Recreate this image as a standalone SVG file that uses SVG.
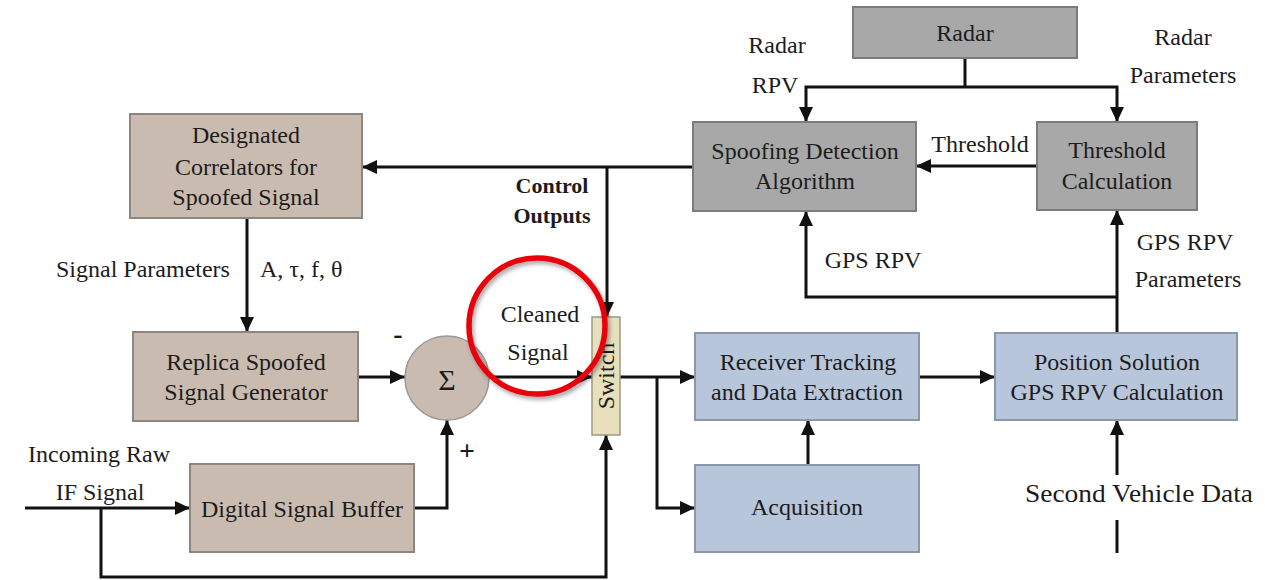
<svg xmlns="http://www.w3.org/2000/svg" width="1265" height="580" viewBox="0 0 1265 580">
<style>
  text { font-family: "Liberation Serif", "DejaVu Serif", "Times New Roman", serif; font-size: 24px; fill: #1c1c1c; }
  .c { text-anchor: middle; }
  .tan { fill: #cabbb0; stroke: #8c8580; stroke-width: 2; }
  .gray { fill: #a8a8a8; stroke: #7c7c7c; stroke-width: 2; }
  .blue { fill: #b8c6dc; stroke: #8c97aa; stroke-width: 2; }
  .sw { fill: #e8dfbd; stroke: #9b9a80; stroke-width: 1.5; }
  .ln { fill: none; stroke: #111; stroke-width: 3; }
  .arr { marker-end: url(#ah); }
  .bold { font-weight: bold; font-size: 22px; }
</style>
<defs>
  <marker id="ah" markerUnits="userSpaceOnUse" markerWidth="16" markerHeight="14" refX="15" refY="7" orient="auto">
    <path d="M0,0 L15,7 L0,14 z" fill="#111"/>
  </marker>
  <filter id="sh" x="-20%" y="-20%" width="140%" height="140%">
    <feDropShadow dx="2" dy="3" stdDeviation="2" flood-color="#000" flood-opacity="0.35"/>
  </filter>
</defs>
<rect width="1265" height="580" fill="#fff"/>

<g id="connectors">
  <line class="ln arr" x1="693" y1="167" x2="362" y2="167"/>
  <line class="ln arr" x1="607" y1="167" x2="607" y2="317"/>
  <line class="ln arr" x1="247" y1="218" x2="247" y2="332"/>
  <line class="ln arr" x1="358" y1="377" x2="405" y2="377"/>
  <line class="ln arr" x1="25" y1="508" x2="190" y2="508"/>
  <polyline class="ln arr" points="101,508 101,577 606,577 606,435"/>
  <polyline class="ln arr" points="414,508 447,508 447,420"/>
  <line class="ln arr" x1="489" y1="377" x2="592" y2="377"/>
  <line class="ln arr" x1="620" y1="377" x2="695" y2="377"/>
  <polyline class="ln arr" points="657,377 657,508 695,508"/>
  <line class="ln arr" x1="808" y1="465" x2="808" y2="420"/>
  <line class="ln arr" x1="919" y1="377" x2="995" y2="377"/>
  <line class="ln" x1="1117" y1="553" x2="1117" y2="520"/>
  <line class="ln arr" x1="1117" y1="475" x2="1117" y2="420"/>
  <line class="ln arr" x1="1117" y1="333" x2="1117" y2="210"/>
  <polyline class="ln arr" points="1117,297 806,297 806,211"/>
  <line class="ln" x1="965" y1="58" x2="965" y2="87"/>
  <polyline class="ln arr" points="965,87 806,87 806,122"/>
  <polyline class="ln arr" points="965,87 1117,87 1117,122"/>
  <line class="ln arr" x1="1037" y1="166" x2="916" y2="166"/>
</g>

<g id="designated">
  <rect class="tan" x="130" y="114" width="232" height="104"/>
  <text class="c" x="246" y="143">Designated</text>
  <text class="c" x="246" y="175">Correlators for</text>
  <text class="c" x="246" y="205">Spoofed Signal</text>
</g>
<g id="replica">
  <rect class="tan" x="133" y="332" width="225" height="89"/>
  <text class="c" x="246" y="370">Replica Spoofed</text>
  <text class="c" x="246" y="400">Signal Generator</text>
</g>
<g id="buffer">
  <rect class="tan" x="190" y="464" width="224" height="88"/>
  <text class="c" x="302" y="517">Digital Signal Buffer</text>
</g>
<g id="sum">
  <circle cx="447" cy="378" r="42" fill="#cabbb0" stroke="#999" stroke-width="1.5"/>
  <text class="c" x="447" y="390" style="font-size:30px">Σ</text>
  <text class="c" x="398" y="343" style="font-weight:bold;font-size:28px">-</text>
  <text class="c" x="467" y="460" style="font-weight:bold;font-size:28px">+</text>
</g>
<g id="switch">
  <rect class="sw" x="592" y="317" width="28" height="118"/>
  <text class="c" transform="translate(614,376) rotate(-90)" style="font-size:24px">Switch</text>
</g>
<g id="radar">
  <rect class="gray" x="853" y="7" width="224" height="51"/>
  <text class="c" x="965" y="41">Radar</text>
</g>
<g id="spoofing">
  <rect class="gray" x="693" y="122" width="223" height="89"/>
  <text class="c" x="805" y="159">Spoofing Detection</text>
  <text class="c" x="805" y="189">Algorithm</text>
</g>
<g id="threshold">
  <rect class="gray" x="1037" y="122" width="160" height="88"/>
  <text class="c" x="1117" y="158">Threshold</text>
  <text class="c" x="1117" y="189">Calculation</text>
</g>
<g id="receiver">
  <rect class="blue" x="695" y="333" width="224" height="87"/>
  <text class="c" x="808" y="370">Receiver Tracking</text>
  <text class="c" x="807" y="400">and Data Extraction</text>
</g>
<g id="acquisition">
  <rect class="blue" x="695" y="465" width="224" height="87"/>
  <text class="c" x="807" y="515">Acquisition</text>
</g>
<g id="position">
  <rect class="blue" x="995" y="333" width="242" height="87"/>
  <text class="c" x="1117" y="370">Position Solution</text>
  <text class="c" x="1117" y="400">GPS RPV Calculation</text>
</g>

<g id="labels">
  <text x="56" y="277">Signal Parameters</text>
  <text x="260" y="277">A, τ, f, θ</text>
  <text class="c" x="99" y="462">Incoming Raw</text>
  <text class="c" x="100" y="500">IF Signal</text>
  <text class="c bold" x="552" y="193">Control</text>
  <text class="c bold" x="552" y="223">Outputs</text>
  <text class="c" x="540" y="322">Cleaned</text>
  <text class="c" x="538" y="360">Signal</text>
  <text class="c" x="777" y="53">Radar</text>
  <text class="c" x="775" y="93">RPV</text>
  <text class="c" x="1183" y="45">Radar</text>
  <text class="c" x="1183" y="83">Parameters</text>
  <text class="c" x="980" y="152">Threshold</text>
  <text class="c" x="873" y="268">GPS RPV</text>
  <text class="c" x="1185" y="250">GPS RPV</text>
  <text class="c" x="1188" y="287">Parameters</text>
  <text class="c" x="1139" y="502" style="font-size:26px" textLength="228" lengthAdjust="spacingAndGlyphs">Second Vehicle Data</text>
</g>

<g id="highlight">
  <circle cx="537" cy="326" r="68" fill="none" stroke="#e8000b" stroke-width="5.5" filter="url(#sh)"/>
</g>
</svg>
